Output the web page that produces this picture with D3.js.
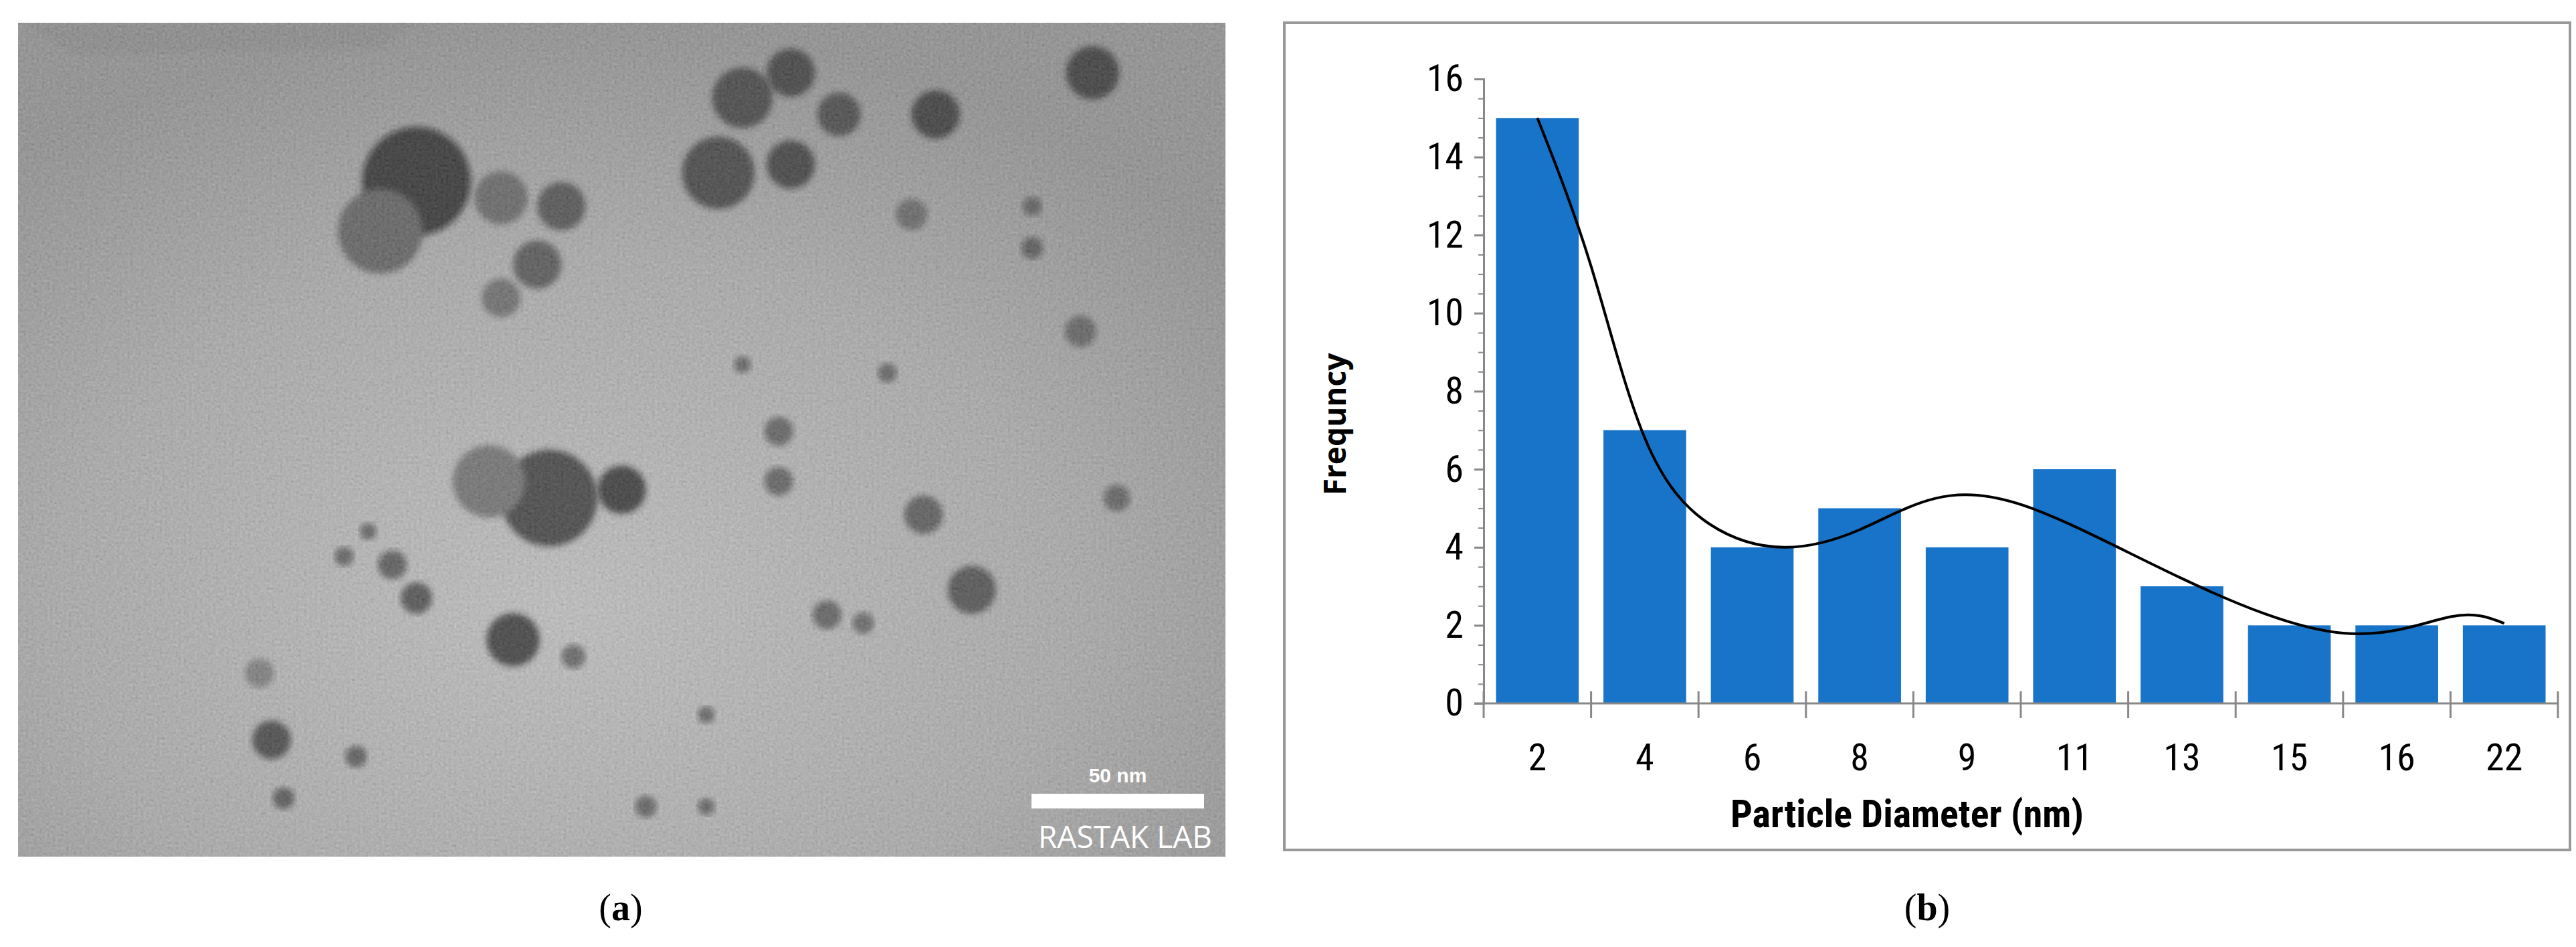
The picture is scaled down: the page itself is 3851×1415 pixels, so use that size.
<!DOCTYPE html>
<html><head><meta charset="utf-8">
<script src="https://cdn.jsdelivr.net/npm/d3@7/dist/d3.min.js"></script>
<style>body{margin:0;background:#fff}</style></head>
<body><svg id="c" width="3851" height="1415"></svg>
<script>
const categories = ["2","4","6","8","9","11","13","15","16","22"];
const frequency = [15,7,4,5,4,6,3,2,2,2];
const yTicks = [0,2,4,6,8,10,12,14,16];
// trend curve: [category index, value]
const trendX = [0,0.5,1,1.6,2.3,3,3.7,4.6,6,7.5,8.5,9];
const trendY = [15,11.2,6.8,4.6,4.0,4.45,5.25,5.0,3.2,1.8,2.22,2.05];
// micrograph particles (decorative): x,y,r,darkness in panel-relative units (0..1)
const particles = [
 [0.33,0.19,0.045,1.0],[0.30,0.25,0.035,0.6],[0.40,0.21,0.022,0.55],[0.45,0.22,0.02,0.75],[0.43,0.29,0.02,0.7],[0.40,0.33,0.016,0.5],
 [0.44,0.57,0.04,0.85],[0.50,0.56,0.02,0.95],[0.39,0.55,0.03,0.45],[0.41,0.74,0.022,0.9],[0.46,0.76,0.01,0.55],
 [0.60,0.09,0.025,0.85],[0.64,0.06,0.02,0.9],[0.58,0.18,0.03,0.85],[0.64,0.17,0.02,0.9],[0.68,0.11,0.018,0.8],[0.76,0.11,0.02,0.95],
 [0.89,0.06,0.022,0.95],[0.74,0.23,0.013,0.55],[0.84,0.22,0.008,0.65],[0.84,0.27,0.009,0.7],[0.88,0.37,0.013,0.6],
 [0.60,0.41,0.007,0.6],[0.63,0.49,0.012,0.6],[0.63,0.55,0.012,0.6],[0.75,0.59,0.016,0.65],[0.79,0.68,0.02,0.75],[0.67,0.71,0.012,0.6],[0.70,0.72,0.009,0.55],
 [0.91,0.57,0.011,0.6],[0.29,0.61,0.007,0.6],[0.27,0.64,0.008,0.6],[0.31,0.65,0.012,0.65],[0.33,0.69,0.013,0.75],[0.21,0.86,0.016,0.8],[0.22,0.93,0.009,0.7],[0.28,0.88,0.009,0.65],
 [0.52,0.94,0.009,0.6],[0.57,0.83,0.007,0.6],[0.72,0.42,0.008,0.6],[0.57,0.94,0.007,0.6],[0.20,0.78,0.012,0.35]
];
const svg = d3.select("#c");
const defs = svg.append("defs");
// ---------- panel (a) ----------
const A = {x:27,y:34,w:1805,h:1246};
const f = defs.append("filter").attr("id","noise").attr("x",0).attr("y",0).attr("width",1).attr("height",1);
f.append("feTurbulence").attr("type","fractalNoise").attr("baseFrequency",0.25).attr("numOctaves",2).attr("seed",3).attr("result","t");
f.append("feColorMatrix").attr("in","t").attr("type","matrix").attr("values","0.33 0.33 0.33 0 0  0.33 0.33 0.33 0 0  0.33 0.33 0.33 0 0  0 0 0 0 0.35");
const bg = defs.append("radialGradient").attr("id","bg").attr("cx","45%").attr("cy","70%").attr("r","70%");
bg.append("stop").attr("offset","0").attr("stop-color","#bcbcbc");
bg.append("stop").attr("offset","0.6").attr("stop-color","#a2a2a2");
bg.append("stop").attr("offset","1").attr("stop-color","#828282");
const blur = defs.append("filter").attr("id","bl"); blur.append("feGaussianBlur").attr("stdDeviation",5);
const ga = svg.append("g").attr("transform",`translate(${A.x},${A.y})`);
ga.append("clipPath").attr("id","clipA").append("rect").attr("width",A.w).attr("height",A.h);
const gp = ga.append("g").attr("clip-path","url(#clipA)");
gp.append("rect").attr("width",A.w).attr("height",A.h).attr("fill","url(#bg)");
gp.append("path").attr("d",`M0,0 L${A.w*0.33},0 L${A.w*0.30},${A.h*0.03} L${A.w*0.05},${A.h*0.04}Z`).attr("fill","#7a7a7a").attr("filter","url(#bl)");
gp.selectAll("circle").data(particles).join("circle")
 .attr("cx",d=>d[0]*A.w).attr("cy",d=>d[1]*A.h).attr("r",d=>d[2]*A.w)
 .attr("fill",d=>d3.interpolateRgb("#9a9a9a","#0c0c0c")(d[3])).attr("filter","url(#bl)");
gp.append("rect").attr("width",A.w).attr("height",A.h).attr("fill","#999").attr("filter","url(#noise)");
ga.append("rect").attr("x",1515).attr("y",1152).attr("width",258).attr("height",22).attr("fill","#fff");
ga.append("text").attr("x",1644).attr("y",1135).attr("text-anchor","middle").attr("font-family","Liberation Sans").attr("font-weight","bold").attr("font-size",30).attr("fill","#fff").text("50 nm");
ga.append("text").attr("x",1655).attr("y",1233).attr("text-anchor","middle").attr("font-family","Open Sans").attr("font-size",46).attr("fill","#fff").text("RASTAK LAB");
svg.append("text").attr("x",928).attr("y",1375).attr("text-anchor","middle").attr("font-family","Liberation Serif").attr("font-size",56).html('(<tspan font-weight="bold">a</tspan>)');
// ---------- panel (b) ----------
svg.append("rect").attr("x",1920).attr("y",34).attr("width",1922).attr("height",1236).attr("fill","#fff").attr("stroke","#999").attr("stroke-width",4);
const L=2218,R=3824,T=118,B=1051;
const x = d3.scaleBand().domain(categories).range([L,R]).paddingInner(0.23).paddingOuter(0.115);
const y = d3.scaleLinear().domain([0,16]).range([B,T]);
const font = "'Liberation Sans Narrow','Roboto Condensed',sans-serif";
svg.append("g").selectAll("rect").data(frequency).join("rect")
 .attr("x",(d,i)=>x(categories[i])).attr("width",x.bandwidth())
 .attr("y",d=>y(d)).attr("height",d=>B-y(d)).attr("fill","#1874C8");
const ya = svg.append("g").attr("transform",`translate(${L},0)`)
 .call(d3.axisLeft(y).tickValues(d3.range(0,16.01,0.5)).tickSize(8).tickFormat(""));
ya.select(".domain").attr("stroke","#888").attr("stroke-width",3);
ya.selectAll(".tick line").attr("stroke","#888").attr("stroke-width",2);
const ya2 = svg.append("g").attr("transform",`translate(${L},0)`)
 .call(d3.axisLeft(y).tickValues(yTicks).tickSize(14).tickPadding(16));
ya2.select(".domain").remove();
ya2.selectAll(".tick line").attr("stroke","#888").attr("stroke-width",3);
ya2.selectAll("text").attr("font-family",font).attr("font-size",56).attr("fill","#000");
const step = x.step();
const bounds = d3.range(categories.length+1).map(i=>L+i*step);
const xa = svg.append("g").attr("transform",`translate(0,${B})`);
xa.append("line").attr("x1",L-14).attr("x2",R).attr("stroke","#888").attr("stroke-width",3);
xa.selectAll(".tk").data(bounds).join("line").attr("x1",d=>d).attr("x2",d=>d).attr("y1",-18).attr("y2",22).attr("stroke","#888").attr("stroke-width",3);
xa.selectAll("text").data(categories).join("text").attr("x",d=>x(d)+x.bandwidth()/2).attr("y",100)
 .attr("text-anchor","middle").attr("font-family",font).attr("font-size",56).text(d=>d);
const line = d3.line().x(d=>x(categories[0])+x.bandwidth()/2+d[0]*step).y(d=>y(d[1])).curve(d3.curveNatural);
svg.append("path").attr("d",line(trendX.map((v,i)=>[v,trendY[i]]))).attr("fill","none").attr("stroke","#000").attr("stroke-width",4);
svg.append("text").attr("x",2851).attr("y",1236).attr("text-anchor","middle").attr("font-family",font).attr("font-weight","bold").attr("font-size",58).text("Particle Diameter (nm)");
svg.append("text").attr("transform","translate(2012,634) rotate(-90)").attr("text-anchor","middle").attr("font-family","'Open Sans',sans-serif").attr("font-weight","bold").attr("font-size",46).text("Frequncy");
svg.append("text").attr("x",2881).attr("y",1375).attr("text-anchor","middle").attr("font-family","Liberation Serif").attr("font-size",56).html('(<tspan font-weight="bold">b</tspan>)');
</script></body></html>
